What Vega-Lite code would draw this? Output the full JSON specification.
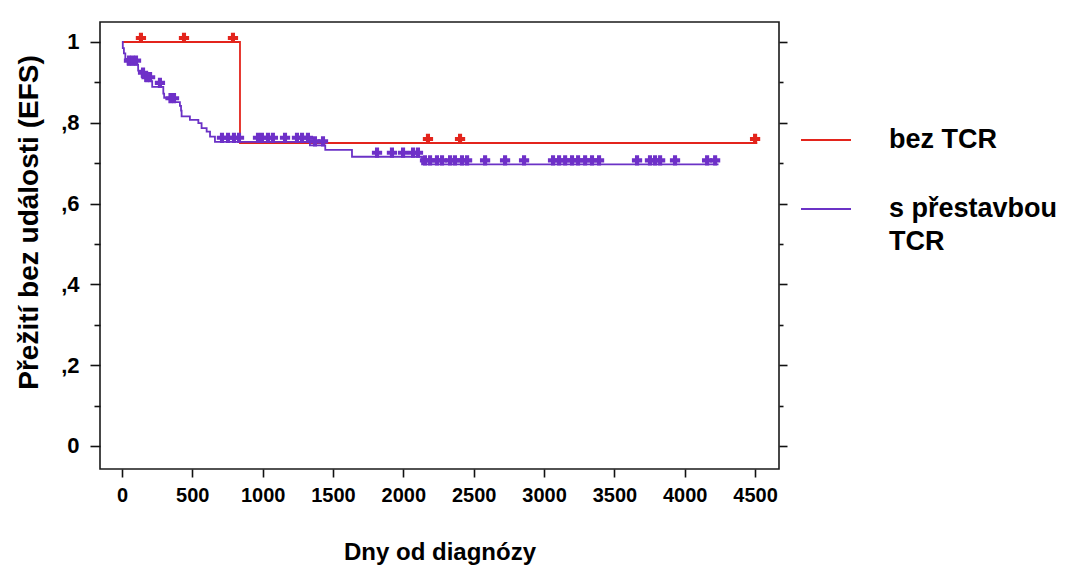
{
  "$schema": "https://vega.github.io/schema/vega-lite/v6.json",
  "autosize": {"type": "none"},
  "padding": {"left": 100, "top": 22, "right": 291, "bottom": 103},
  "width": 679,
  "height": 447,
  "background": "white",
  "config": {
    "view": {"stroke": "#1a1a1a", "strokeWidth": 1.6},
    "font": "Liberation Sans"
  },
  "datasets": {
    "curve": [
      {"group": "bez TCR", "day": 0, "surv": 1.0},
      {"group": "bez TCR", "day": 839, "surv": 0.75},
      {"group": "bez TCR", "day": 4515, "surv": 0.75},
      {"group": "s přestavbou TCR", "day": 0, "surv": 1.0},
      {"group": "s přestavbou TCR", "day": 6, "surv": 0.985},
      {"group": "s přestavbou TCR", "day": 14, "surv": 0.972},
      {"group": "s přestavbou TCR", "day": 24, "surv": 0.958},
      {"group": "s přestavbou TCR", "day": 40, "surv": 0.944},
      {"group": "s přestavbou TCR", "day": 115, "surv": 0.929},
      {"group": "s přestavbou TCR", "day": 140, "surv": 0.914},
      {"group": "s přestavbou TCR", "day": 165, "surv": 0.903},
      {"group": "s přestavbou TCR", "day": 215, "surv": 0.889},
      {"group": "s přestavbou TCR", "day": 294, "surv": 0.872},
      {"group": "s přestavbou TCR", "day": 300, "surv": 0.862},
      {"group": "s přestavbou TCR", "day": 340, "surv": 0.851},
      {"group": "s přestavbou TCR", "day": 412, "surv": 0.842},
      {"group": "s přestavbou TCR", "day": 420, "surv": 0.83},
      {"group": "s přestavbou TCR", "day": 424, "surv": 0.816},
      {"group": "s přestavbou TCR", "day": 483, "surv": 0.807},
      {"group": "s přestavbou TCR", "day": 543, "surv": 0.799},
      {"group": "s přestavbou TCR", "day": 566, "surv": 0.787},
      {"group": "s přestavbou TCR", "day": 602, "surv": 0.778},
      {"group": "s přestavbou TCR", "day": 626, "surv": 0.766},
      {"group": "s přestavbou TCR", "day": 661, "surv": 0.753},
      {"group": "s přestavbou TCR", "day": 1336, "surv": 0.744},
      {"group": "s přestavbou TCR", "day": 1445, "surv": 0.733},
      {"group": "s přestavbou TCR", "day": 1635, "surv": 0.716},
      {"group": "s přestavbou TCR", "day": 2133, "surv": 0.697},
      {"group": "s přestavbou TCR", "day": 4240, "surv": 0.697}
    ],
    "censor": [
      {"group": "bez TCR", "day": 135, "surv": 1.0},
      {"group": "bez TCR", "day": 441, "surv": 1.0},
      {"group": "bez TCR", "day": 789, "surv": 1.0},
      {"group": "bez TCR", "day": 2175, "surv": 0.75},
      {"group": "bez TCR", "day": 2403, "surv": 0.75},
      {"group": "bez TCR", "day": 4500, "surv": 0.75},
      {"group": "s přestavbou TCR", "day": 50, "surv": 0.944},
      {"group": "s přestavbou TCR", "day": 75, "surv": 0.944},
      {"group": "s přestavbou TCR", "day": 100, "surv": 0.944},
      {"group": "s přestavbou TCR", "day": 150, "surv": 0.914},
      {"group": "s přestavbou TCR", "day": 175, "surv": 0.903},
      {"group": "s přestavbou TCR", "day": 200, "surv": 0.903},
      {"group": "s přestavbou TCR", "day": 270, "surv": 0.889},
      {"group": "s přestavbou TCR", "day": 345, "surv": 0.851},
      {"group": "s přestavbou TCR", "day": 370, "surv": 0.851},
      {"group": "s přestavbou TCR", "day": 711, "surv": 0.753},
      {"group": "s přestavbou TCR", "day": 754, "surv": 0.753},
      {"group": "s přestavbou TCR", "day": 796, "surv": 0.753},
      {"group": "s přestavbou TCR", "day": 832, "surv": 0.753},
      {"group": "s přestavbou TCR", "day": 967, "surv": 0.753},
      {"group": "s přestavbou TCR", "day": 995, "surv": 0.753},
      {"group": "s přestavbou TCR", "day": 1038, "surv": 0.753},
      {"group": "s přestavbou TCR", "day": 1073, "surv": 0.753},
      {"group": "s přestavbou TCR", "day": 1159, "surv": 0.753},
      {"group": "s přestavbou TCR", "day": 1244, "surv": 0.753},
      {"group": "s přestavbou TCR", "day": 1280, "surv": 0.753},
      {"group": "s přestavbou TCR", "day": 1322, "surv": 0.753},
      {"group": "s přestavbou TCR", "day": 1372, "surv": 0.744},
      {"group": "s přestavbou TCR", "day": 1429, "surv": 0.744},
      {"group": "s přestavbou TCR", "day": 1813, "surv": 0.716},
      {"group": "s přestavbou TCR", "day": 1919, "surv": 0.716},
      {"group": "s přestavbou TCR", "day": 1998, "surv": 0.716},
      {"group": "s přestavbou TCR", "day": 2069, "surv": 0.716},
      {"group": "s přestavbou TCR", "day": 2104, "surv": 0.716},
      {"group": "s přestavbou TCR", "day": 2154, "surv": 0.697},
      {"group": "s přestavbou TCR", "day": 2190, "surv": 0.697},
      {"group": "s přestavbou TCR", "day": 2239, "surv": 0.697},
      {"group": "s přestavbou TCR", "day": 2275, "surv": 0.697},
      {"group": "s přestavbou TCR", "day": 2332, "surv": 0.697},
      {"group": "s přestavbou TCR", "day": 2367, "surv": 0.697},
      {"group": "s přestavbou TCR", "day": 2417, "surv": 0.697},
      {"group": "s přestavbou TCR", "day": 2453, "surv": 0.697},
      {"group": "s přestavbou TCR", "day": 2581, "surv": 0.697},
      {"group": "s přestavbou TCR", "day": 2723, "surv": 0.697},
      {"group": "s přestavbou TCR", "day": 2858, "surv": 0.697},
      {"group": "s přestavbou TCR", "day": 3064, "surv": 0.697},
      {"group": "s přestavbou TCR", "day": 3107, "surv": 0.697},
      {"group": "s přestavbou TCR", "day": 3150, "surv": 0.697},
      {"group": "s přestavbou TCR", "day": 3199, "surv": 0.697},
      {"group": "s přestavbou TCR", "day": 3242, "surv": 0.697},
      {"group": "s přestavbou TCR", "day": 3292, "surv": 0.697},
      {"group": "s přestavbou TCR", "day": 3341, "surv": 0.697},
      {"group": "s přestavbou TCR", "day": 3391, "surv": 0.697},
      {"group": "s přestavbou TCR", "day": 3661, "surv": 0.697},
      {"group": "s přestavbou TCR", "day": 3753, "surv": 0.697},
      {"group": "s přestavbou TCR", "day": 3789, "surv": 0.697},
      {"group": "s přestavbou TCR", "day": 3825, "surv": 0.697},
      {"group": "s přestavbou TCR", "day": 3931, "surv": 0.697},
      {"group": "s přestavbou TCR", "day": 4159, "surv": 0.697},
      {"group": "s přestavbou TCR", "day": 4216, "surv": 0.697}
    ]
  },
  "resolve": {"axis": {"y": "independent"}},
  "layer": [
    {
      "data": {"name": "curve"},
      "mark": {"type": "line", "interpolate": "step-after", "strokeWidth": 1.8},
      "encoding": {
        "x": {
          "field": "day", "type": "quantitative",
          "scale": {"domain": [-156, 4670], "nice": false, "zero": false},
          "axis": {
            "orient": "bottom",
            "values": [0, 250, 500, 750, 1000, 1250, 1500, 1750, 2000, 2250, 2500, 2750, 3000, 3250, 3500, 3750, 4000, 4250, 4500],
            "labelExpr": "round(datum.value/250) % 2 == 0 ? format(datum.value, 'd') : ''",
            "labelOverlap": false, "labelFlush": false,
            "domain": false, "grid": false,
            "tickColor": "#111", "tickWidth": 1.6,
            "tickSize": {"condition": {"test": "round(datum.value/250) % 2 == 0", "value": 8}, "value": 4},
            "labelFont": "Liberation Sans", "labelFontWeight": "bold", "labelFontSize": 20, "labelColor": "#000",
            "labelPadding": 8,
            "title": "Dny od diagnózy",
            "titleFont": "Liberation Sans", "titleFontWeight": "bold", "titleFontSize": 24, "titleColor": "#000",
            "titleBaseline": "alphabetic", "titleY": 90
          }
        },
        "y": {
          "field": "surv", "type": "quantitative",
          "scale": {"domain": [-0.057, 1.0495], "nice": false, "zero": false},
          "axis": {
            "orient": "left",
            "values": [0, 0.1, 0.2, 0.3, 0.4, 0.5, 0.6, 0.7, 0.8, 0.9, 1],
            "labelExpr": "round(datum.value*10) % 2 == 0 ? (datum.value == 0 ? '0' : datum.value == 1 ? '1' : replace(format(datum.value, '.1f'), '0.', ',')) : ''",
            "labelOverlap": false, "labelFlush": false,
            "domain": false, "grid": false,
            "tickColor": "#111", "tickWidth": 1.6,
            "tickSize": {"condition": {"test": "round(datum.value*10) % 2 == 0", "value": 10}, "value": 6},
            "labelFont": "Liberation Sans", "labelFontWeight": "bold", "labelFontSize": 22, "labelColor": "#000",
            "labelPadding": 11,
            "title": "Přežití bez události (EFS)",
            "titleFont": "Liberation Sans", "titleFontWeight": "bold", "titleFontSize": 28, "titleColor": "#000",
            "titleBaseline": "alphabetic", "titleX": -63, "titleY": 200, "titleAngle": 270
          }
        },
        "color": {
          "field": "group", "type": "nominal",
          "scale": {"domain": ["bez TCR", "s přestavbou TCR"], "range": ["#e3241c", "#6b32c6"]},
          "legend": {
            "orient": "none", "legendX": 700, "legendY": 92,
            "title": null, "padding": 0,
            "symbolType": "stroke", "symbolSize": 2500, "symbolStrokeWidth": 2,
            "labelFont": "Liberation Sans", "labelFontWeight": "bold", "labelFontSize": 27, "labelColor": "#000",
            "labelOffset": 37, "labelLimit": 0, "rowPadding": 30,
            "labelExpr": "datum.value == 's přestavbou TCR' ? ['s přestavbou', 'TCR'] : datum.label",
            "encode": {
              "symbols": {"update": {"stroke": {"signal": "datum.value == 'bez TCR' ? '#e3241c' : '#2d3ed2'"}}},
              "labels": {"update": {"lineHeight": {"value": 33}}}
            }
          }
        }
      }
    },
    {
      "data": {"name": "censor"},
      "mark": {"type": "point", "shape": "cross", "filled": true, "size": 105, "opacity": 1, "yOffset": -4},
      "encoding": {
        "x": {"field": "day", "type": "quantitative"},
        "y": {
          "field": "surv", "type": "quantitative",
          "axis": {
            "orient": "right",
            "values": [0, 0.1, 0.2, 0.3, 0.4, 0.5, 0.6, 0.7, 0.8, 0.9, 1],
            "labels": false, "title": null, "domain": false, "grid": false,
            "tickColor": "#111", "tickWidth": 1.6,
            "tickSize": {"condition": {"test": "round(datum.value*10) % 2 == 0", "value": 8}, "value": 4}
          }
        },
        "fill": {
          "field": "group", "type": "nominal",
          "scale": {"domain": ["bez TCR", "s přestavbou TCR"], "range": ["#e3241c", "#6e30c8"]},
          "legend": null
        }
      }
    }
  ]
}
